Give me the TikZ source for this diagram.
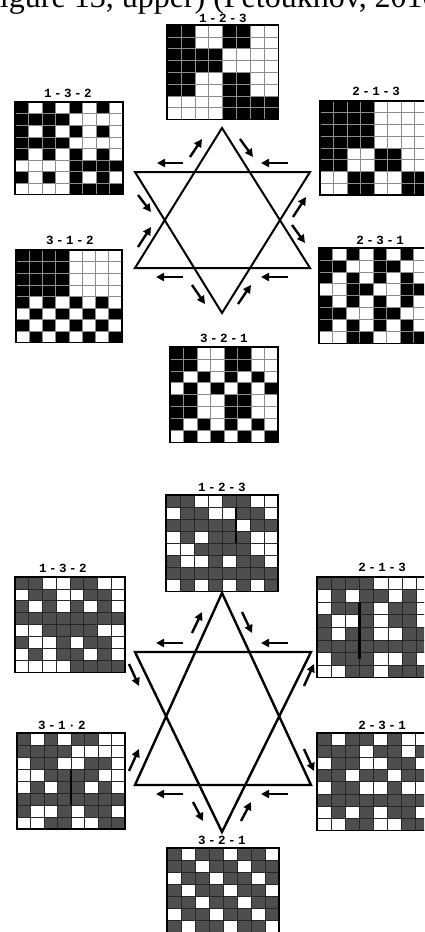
\documentclass[tikz,border=0pt]{standalone}
\usepackage{fontspec}
\setmainfont{Liberation Serif}
\newfontfamily\lblfont{Liberation Mono}
\usetikzlibrary{arrows.meta}
\definecolor{cellgray}{RGB}{78,78,78}
\definecolor{glinecol}{RGB}{140,140,140}
\newcommand\lbx[5]{{\lblfont\bfseries\fontsize{12.5}{13}\selectfont #1\kern2.5pt#2\kern2.5pt#3\kern2.5pt#4\kern2.5pt#5}}
% #1 x, #2 y, #3 cell w, #4 cell h, #5 rows, #6 line style
\newcommand\pgrid[6]{%
  \foreach \rw [count=\i from 0] in {#5}{%
    \foreach \cv [count=\j from 0] in \rw {%
      \ifnum\cv=1\relax \fill[black] ({#1+\j*#3},{#2+\i*#4}) rectangle ++(#3,#4);\fi
      \ifnum\cv=2\relax \fill[cellgray] ({#1+\j*#3},{#2+\i*#4}) rectangle ++(#3,#4);\fi
    }%
  }%
  \foreach \k in {1,...,7}{%
    \draw[#6] ({#1+\k*#3},#2) -- ++(0,{8*#4});
    \draw[#6] (#1,{#2+\k*#4}) -- ++({8*#3},0);
  }%
  \draw[gborder] (#1,#2) rectangle ++({8*#3},{8*#4});
}
\tikzset{
  gborder/.style={draw=black,line width=1.3pt},
  glight/.style={draw=glinecol,line width=0.6pt},
  gdark/.style={draw=black!85,line width=0.8pt},
  thickv/.style={draw=black,line width=2.6pt},
  arr/.style={line width=2.4pt,-{Triangle[length=8pt,width=8pt]}},
  starline/.style={line width=2pt,line join=miter},
  starline2/.style={line width=2.4pt,line join=miter},
  lbl/.style={inner sep=0pt}
}
\begin{document}
\begin{tikzpicture}[x=1pt,y=-1pt]
\useasboundingbox (0,0) rectangle (424,932);
\clip (0,0) rectangle (424,932);
\fill[white] (0,0) rectangle (424,932);

% title (cropped)
\node[anchor=base west,inner sep=0pt,font=\fontsize{32}{33}\selectfont] (title) at (-18,7) {Figure 13, upper) (Petoukhov, 2010)};

% ===== upper half =====
\pgrid{167}{25}{13.9}{11.8}{{1,1,0,0,1,1,0,0},{1,1,0,0,1,1,0,0},{1,1,1,1,0,0,0,0},{1,1,1,1,0,0,0,0},{1,1,0,0,1,1,0,0},{1,1,0,0,1,1,0,0},{0,0,0,0,1,1,1,1},{0,0,0,0,1,1,1,1}}{glight}
\node[lbl] (u123) at (223,18.5) {\lbx{1}{-}{2}{-}{3}};

\pgrid{15}{102}{13.5}{11.6}{{1,0,1,0,1,0,1,0},{1,1,1,1,0,0,0,0},{1,0,1,0,1,0,1,0},{1,1,1,1,0,0,0,0},{1,0,1,0,1,0,1,0},{0,0,0,0,1,1,1,1},{1,0,1,0,1,0,1,0},{0,0,0,0,1,1,1,1}}{glight}
\node[lbl] (u132) at (68,93) {\lbx{1}{-}{3}{-}{2}};

\pgrid{320}{101}{13.5}{11.75}{{1,1,1,1,0,0,0,0},{1,1,1,1,0,0,0,0},{1,1,1,1,0,0,0,0},{1,1,1,1,0,0,0,0},{1,1,0,0,1,1,0,0},{1,1,0,0,1,1,0,0},{0,0,1,1,0,0,1,1},{0,0,1,1,0,0,1,1}}{glight}
\node[lbl] (u213) at (376,91.5) {\lbx{2}{-}{1}{-}{3}};

\pgrid{16}{250}{13.25}{11.6}{{1,1,1,1,0,0,0,0},{1,1,1,1,0,0,0,0},{1,1,1,1,0,0,0,0},{1,1,1,1,0,0,0,0},{1,0,1,0,1,0,1,0},{0,1,0,1,0,1,0,1},{1,0,1,0,1,0,1,0},{0,1,0,1,0,1,0,1}}{glight}
\node[lbl] (u312) at (70,240) {\lbx{3}{-}{1}{-}{2}};

\pgrid{319}{248}{13.5}{11.9}{{1,0,1,0,1,0,1,0},{1,1,0,0,1,1,0,0},{1,0,1,0,1,0,1,0},{0,0,1,1,0,0,1,1},{1,0,1,0,1,0,1,0},{1,1,0,0,1,1,0,0},{1,0,1,0,1,0,1,0},{0,0,1,1,0,0,1,1}}{glight}
\node[lbl] (u231) at (380,240) {\lbx{2}{-}{3}{-}{1}};

\pgrid{170}{347}{13.5}{11.9}{{1,1,0,0,1,1,0,0},{1,1,0,0,1,1,0,0},{1,0,1,0,1,0,1,0},{0,1,0,1,0,1,0,1},{1,1,0,0,1,1,0,0},{1,1,0,0,1,1,0,0},{1,0,1,0,1,0,1,0},{0,1,0,1,0,1,0,1}}{glight}
\node[lbl] (u321) at (224,338) {\lbx{3}{-}{2}{-}{1}};

% upper star
\draw[starline] (222,128) -- (135,268) -- (310,268) -- cycle;
\draw[starline] (135,172) -- (310,172) -- (222,313) -- cycle;
% upper arrows
\draw[arr] (190,157) -- (202,139);
\draw[arr] (240,139) -- (253,157);
\draw[arr] (183,163) -- (157,163);
\draw[arr] (288,163) -- (261,163);
\draw[arr] (138,195) -- (151,212);
\draw[arr] (138,247) -- (151,227);
\draw[arr] (293,217) -- (306,197);
\draw[arr] (292,225) -- (305,243);
\draw[arr] (183,277) -- (156,277);
\draw[arr] (288,277) -- (261,277);
\draw[arr] (192,285) -- (205,304);
\draw[arr] (238,304) -- (251,285);

% ===== lower half =====
\pgrid{166}{495}{14}{12.1}{{2,2,0,0,2,2,0,0},{0,2,2,0,0,2,2,0},{2,2,2,2,2,0,2,2},{0,2,0,2,2,2,0,0},{0,0,2,2,2,2,0,0},{2,0,0,2,0,2,2,0},{2,2,2,2,2,2,2,2},{0,2,0,2,0,2,0,2}}{gdark}
\draw[thickv] (236,507) -- (236,543);
\node[lbl] (l123) at (222,487) {\lbx{1}{-}{2}{-}{3}};

\pgrid{15}{577}{13.75}{11.9}{{2,2,0,0,2,2,0,0},{0,2,2,0,0,2,2,0},{2,0,2,0,2,0,2,0},{2,2,2,2,2,2,2,2},{0,0,2,2,2,2,0,0},{2,0,0,2,0,2,2,0},{0,2,0,2,2,0,2,0},{0,0,0,0,2,2,2,2}}{gdark}
\node[lbl] (l132) at (63,568) {\lbx{1}{-}{3}{-}{2}};

\pgrid{317}{577}{14.2}{12.6}{{2,2,2,2,0,0,0,0},{0,2,0,2,2,0,2,0},{0,2,2,2,0,2,2,0},{2,0,0,2,0,2,2,0},{2,0,2,2,0,0,2,2},{2,2,2,2,2,2,2,2},{0,2,2,2,0,0,2,0},{0,0,2,2,0,2,2,2}}{gdark}
\draw[thickv] (359.6,602) -- (359.6,659);
\node[lbl] (l213) at (382,567) {\lbx{2}{-}{1}{-}{3}};

\pgrid{17}{733}{13.5}{12}{{2,0,2,0,2,2,0,0},{2,2,2,2,0,0,0,0},{0,2,2,0,0,2,2,0},{0,0,2,2,2,2,0,0},{0,2,0,2,2,0,2,0},{2,2,2,2,2,2,2,2},{2,0,0,2,0,2,2,0},{0,0,2,2,0,0,2,2}}{gdark}
\draw[thickv] (71,769) -- (71,805);
\node[lbl] (l312) at (62,725) {\lbx{3}{-}{1}{·}{2}};

\pgrid{317}{733}{14}{12.2}{{2,0,2,2,0,2,0,0},{2,2,2,0,2,2,0,2},{0,2,2,0,0,2,2,0},{2,2,0,2,2,0,2,2},{0,2,2,0,0,2,0,0},{2,2,2,2,2,2,2,2},{0,2,0,2,0,2,2,0},{0,0,2,2,0,0,2,2}}{gdark}
\node[lbl] (l231) at (382,725) {\lbx{2}{-}{3}{-}{1}};

\pgrid{167}{848}{14}{12}{{2,0,2,2,0,2,2,0},{2,2,0,2,2,0,2,2},{0,2,2,0,2,2,0,2},{2,0,2,2,0,2,2,0},{2,2,0,2,2,0,2,2},{0,2,2,0,2,2,0,2},{2,0,2,2,0,2,2,0},{2,2,0,2,2,0,2,2}}{gdark}
\node[lbl] (l321) at (222,840) {\lbx{3}{-}{2}{-}{1}};

% lower star
\draw[starline2] (222,593) -- (135,785) -- (311,785) -- cycle;
\draw[starline2] (135,652) -- (311,652) -- (222,832) -- cycle;
% lower arrows
\draw[arr] (192,633) -- (202,612);
\draw[arr] (242,612) -- (252,633);
\draw[arr] (183,643) -- (156,643);
\draw[arr] (288,643) -- (261,643);
\draw[arr] (129,664) -- (139,686);
\draw[arr] (129,771) -- (139,749);
\draw[arr] (304,686) -- (314,664);
\draw[arr] (304,749) -- (314,771);
\draw[arr] (183,794) -- (156,794);
\draw[arr] (288,794) -- (261,794);
\draw[arr] (193,802) -- (203,821);
\draw[arr] (241,821) -- (251,802);
\end{tikzpicture}
\end{document}
